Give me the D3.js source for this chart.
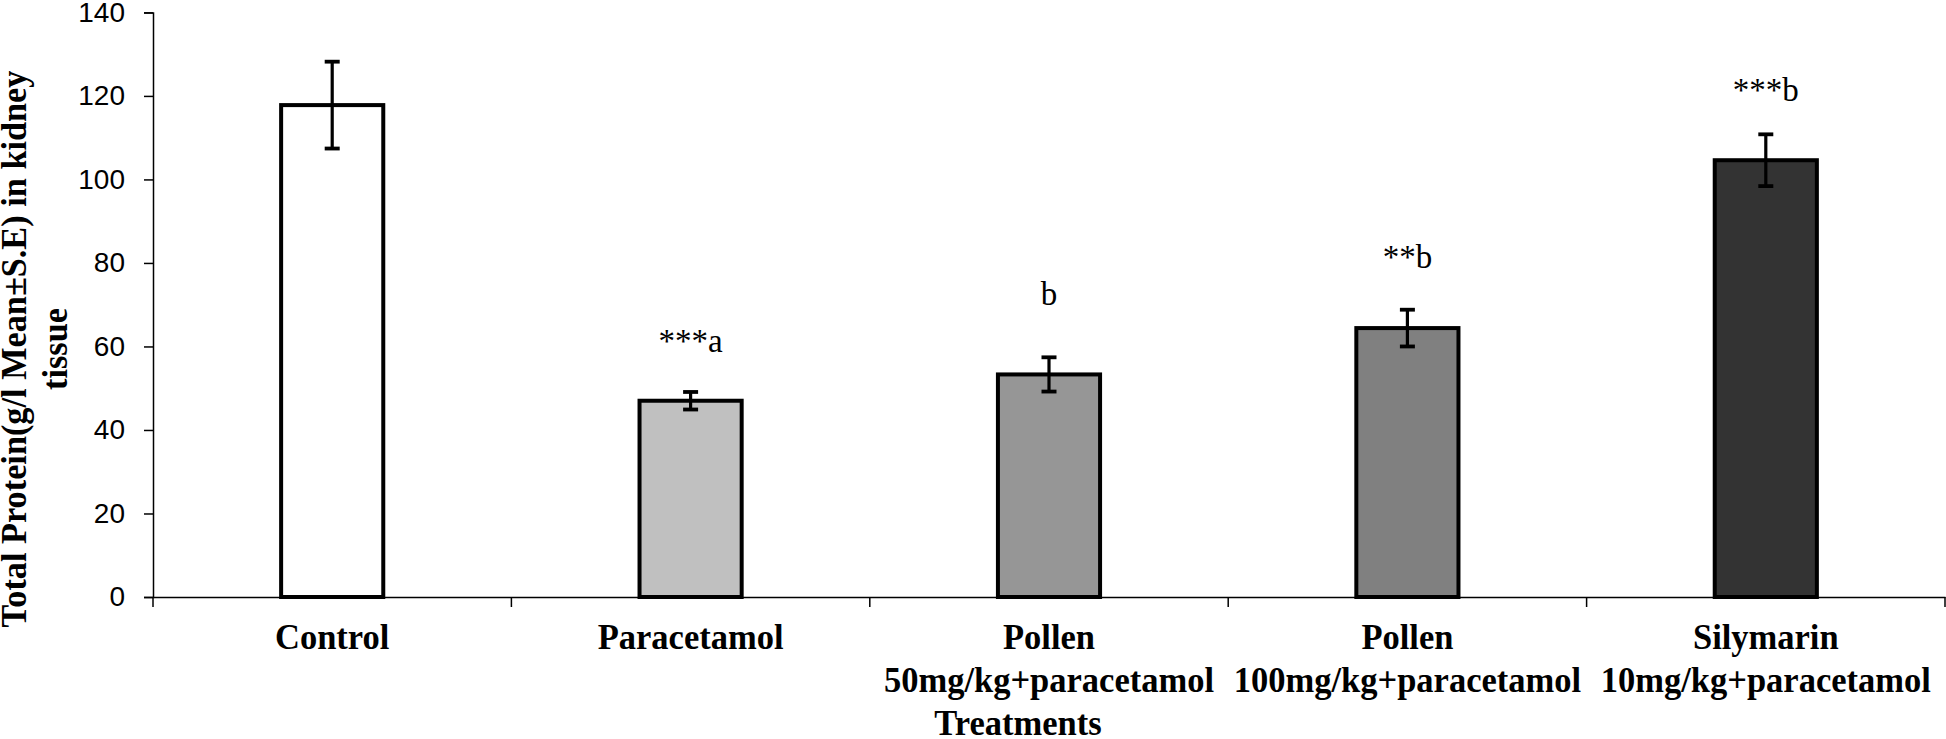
<!DOCTYPE html>
<html><head><meta charset="utf-8">
<script src="https://cdn.jsdelivr.net/npm/d3@7"></script>
<style>body{margin:0;background:#fff;overflow:hidden}</style>
</head><body>
<svg id="c" width="1946" height="739"></svg>
<script>
const categories = ["Control","Paracetamol","Pollen 50mg/kg+paracetamol","Pollen 100mg/kg+paracetamol","Silymarin 10mg/kg+paracetamol"];
const labelLine1 = ["Control","Paracetamol","Pollen","Pollen","Silymarin"];
const labelLine2 = ["","","50mg/kg+paracetamol","100mg/kg+paracetamol","10mg/kg+paracetamol"];
const means = [117.8, 47.0, 53.3, 64.4, 104.6];
const errors = [10.4, 2.1, 4.1, 4.4, 6.2];
const annotations = ["", "***a", "b", "**b", "***b"];
const annotationY = [0, 58.7, 69.9, 78.8, 118.9];
const fills = ["#ffffff","#c0c0c0","#969696","#808080","#333333"];
const yTicks = [0,20,40,60,80,100,120,140];
const yTitle = ["Total Protein(g/l Mean\u00B1S.E) in kidney", "tissue"];
const xTitle = "Treatments";

const svg = d3.select("#c");
const m = {left:153, right:1945, top:12.4, bottom:597};
const x = d3.scaleBand().domain(categories).range([m.left, m.right]).paddingInner(0).paddingOuter(0);
const y = d3.scaleLinear().domain([0,140]).range([m.bottom, m.top]);
const bw = x.bandwidth()*0.285;
const serif = "'Liberation Serif', 'Times New Roman', serif";

// bars
svg.append("g").selectAll("rect").data(categories).join("rect")
  .attr("x", (d,i)=> x(d)+x.bandwidth()/2 - bw/2)
  .attr("y", (d,i)=> y(means[i]))
  .attr("width", bw)
  .attr("height", (d,i)=> y(0)-y(means[i]))
  .attr("fill", (d,i)=> fills[i])
  .attr("stroke", "#000").attr("stroke-width", 4);

// axes
const yAxis = d3.axisLeft(y).tickValues(yTicks).tickSize(9).tickPadding(19).tickFormat(d3.format("d"));
const gy = svg.append("g").attr("transform", `translate(${m.left},0)`).call(yAxis);
gy.select(".domain").attr("stroke","#000").attr("stroke-width",1.5);
gy.selectAll(".tick line").attr("stroke","#000").attr("stroke-width",1.5);
gy.selectAll(".tick text").attr("font-family","'Liberation Sans', Arial, sans-serif").attr("font-size",28).attr("fill","#000");

const xAxis = d3.axisBottom(x).tickValues([]).tickSizeOuter(0);
const gx = svg.append("g").attr("transform", `translate(0,${m.bottom})`).call(xAxis);
gx.select(".domain").attr("stroke","#000").attr("stroke-width",1.5);
const bounds = categories.map(c=>x(c)).concat([x(categories[categories.length-1])+x.bandwidth()]);
gx.selectAll("line.bt").data(bounds).join("line").attr("class","bt")
  .attr("x1",d=>d).attr("x2",d=>d).attr("y1",0).attr("y2",10)
  .attr("stroke","#000").attr("stroke-width",1.5);

// error bars
const eg = svg.append("g").attr("stroke","#000").attr("stroke-width",3.2);
categories.forEach((c,i)=>{
  const cx = x(c)+x.bandwidth()/2;
  eg.append("line").attr("x1",cx).attr("x2",cx).attr("y1",y(means[i]+errors[i])).attr("y2",y(means[i]-errors[i]));
  eg.append("line").attr("x1",cx-7.5).attr("x2",cx+7.5).attr("y1",y(means[i]+errors[i])).attr("y2",y(means[i]+errors[i])).attr("stroke-width",3.8);
  eg.append("line").attr("x1",cx-7.5).attr("x2",cx+7.5).attr("y1",y(means[i]-errors[i])).attr("y2",y(means[i]-errors[i])).attr("stroke-width",3.8);
});

// annotations
svg.append("g").selectAll("text").data(categories).join("text")
  .attr("x", d=> x(d)+x.bandwidth()/2)
  .attr("y", (d,i)=> y(annotationY[i]))
  .attr("text-anchor","middle")
  .attr("font-family",serif)
  .attr("font-size",33).attr("fill","#000")
  .text((d,i)=>annotations[i]);

// x labels
const xl = svg.append("g").attr("font-family",serif).attr("font-weight","bold").attr("font-size",34.5).attr("text-anchor","middle").attr("fill","#000");
categories.forEach((c,i)=>{
  const cx = x(c)+x.bandwidth()/2;
  xl.append("text").attr("transform",`translate(${cx},649) scale(1,1.06)`).text(labelLine1[i]);
  if (labelLine2[i]) xl.append("text").attr("transform",`translate(${cx},692) scale(1,1.06)`).text(labelLine2[i]);
});
xl.append("text").attr("transform","translate(1018,735) scale(1,1.06)").text(xTitle);

// y title
const yt = svg.append("g").attr("font-family",serif).attr("font-weight","bold").attr("font-size",34.3).attr("text-anchor","middle").attr("fill","#000");
yt.append("text").attr("transform","translate(26,349) rotate(-90) scale(1,1.06)").text(yTitle[0]);
yt.append("text").attr("transform","translate(67,349) rotate(-90) scale(1,1.06)").text(yTitle[1]);
</script>
</body></html>
